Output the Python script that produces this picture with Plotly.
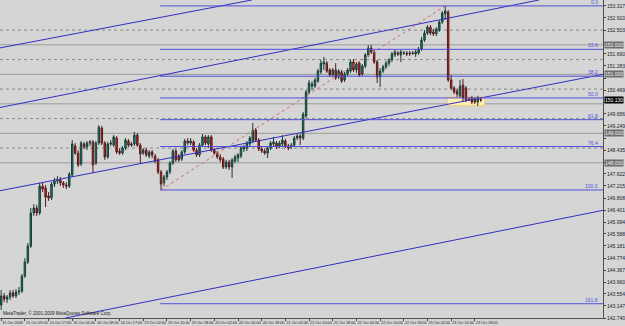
import plotly.graph_objects as go

# ---------------- data (hourly bars, 15-23 Oct 2009) ----------------
open_ = [143.18,143.49,143.38,143.45,143.59,143.49,143.62,143.65,144.16,144.64,
         145.18,146.30,146.47,146.30,147.21,147.15,146.88,146.81,147.28,147.38,
         147.42,147.32,147.25,147.21,147.59,148.57,148.33,147.96,148.64,148.54,
         148.67,148.71,147.99,148.67,149.18,148.67,148.20,148.64,148.60,148.84,
         148.40,148.33,148.50,148.74,148.60,148.64,148.94,148.60,148.33,148.43,
         148.23,148.37,148.23,148.10,147.69,147.32,147.52,147.69,147.99,148.40,
         148.23,148.13,148.37,148.74,148.67,148.71,148.43,148.27,148.60,148.88,
         148.64,148.88,148.43,148.33,148.20,148.13,147.86,148.03,147.86,148.06,
         148.16,148.23,148.47,148.50,148.64,148.74,149.11,148.77,148.47,148.40,
         148.33,148.50,148.64,148.67,148.57,148.64,148.74,148.57,148.54,148.60,
         148.84,148.91,148.84,149.59,150.40,150.60,150.60,150.77,151.08,151.35,
         151.38,151.15,150.98,151.15,150.91,151.08,150.81,151.01,151.11,151.42,
         151.15,151.38,151.01,151.28,151.66,151.89,151.76,151.42,150.91,151.11,
         151.25,151.38,151.49,151.66,151.72,151.66,151.72,151.72,151.69,151.72,
         151.69,151.72,151.86,152.16,152.40,152.60,152.44,152.37,152.50,152.77,
         153.05,153.11,150.81,150.54,150.43,150.27,150.64,150.54,150.16,150.20,
         150.16,150.06,150.16]
close = [143.49,143.38,143.45,143.59,143.49,143.62,143.65,144.16,144.64,145.18,
         146.30,146.47,146.30,147.21,147.11,146.84,146.81,147.28,147.38,147.42,
         147.32,147.25,147.21,147.62,148.64,148.33,147.93,148.67,148.54,148.67,
         148.71,147.93,148.67,149.21,148.67,148.20,148.64,148.67,148.88,148.37,
         148.33,148.50,148.77,148.60,148.64,148.94,148.60,148.30,148.43,148.27,
         148.37,148.27,148.06,147.69,147.28,147.52,147.69,147.99,148.40,148.10,
         148.10,148.37,148.74,148.67,148.74,148.43,148.27,148.60,148.88,148.67,
         148.88,148.43,148.33,148.20,148.10,147.86,148.03,147.86,148.10,148.20,
         148.27,148.50,148.54,148.67,148.84,149.11,148.77,148.47,148.40,148.33,
         148.50,148.67,148.71,148.54,148.67,148.77,148.57,148.50,148.60,148.84,
         148.91,148.84,149.65,150.40,150.71,150.67,150.81,151.11,151.38,151.42,
         151.11,150.98,151.15,150.88,151.11,150.77,151.01,151.15,151.42,151.15,
         151.35,150.98,151.28,151.66,151.89,151.76,151.42,150.91,151.11,151.25,
         151.38,151.49,151.69,151.76,151.69,151.76,151.73,151.69,151.72,151.71,
         151.76,151.86,152.16,152.40,152.60,152.40,152.37,152.54,152.77,153.08,
         153.15,150.81,150.54,150.40,150.33,150.60,150.20,150.13,150.15,150.06,
         150.06,150.20,150.13]
high = [143.69,143.59,143.52,143.69,143.69,143.72,143.79,144.23,144.77,145.28,
        146.47,146.60,146.57,147.32,147.32,147.25,147.01,147.35,147.49,147.55,
        147.52,147.38,147.35,147.69,148.77,148.67,148.43,148.74,148.71,148.74,
        148.77,148.77,148.74,149.28,149.25,148.74,148.71,148.77,148.94,148.91,
        148.50,148.57,148.84,148.81,148.71,149.05,149.01,148.67,148.50,148.50,
        148.43,148.43,148.30,148.16,147.76,147.59,147.76,148.06,148.47,148.47,
        148.30,148.43,148.81,148.84,148.84,148.77,148.50,148.67,148.98,148.94,
        148.94,148.94,148.50,148.40,148.30,148.20,148.10,148.10,148.16,148.27,
        148.33,148.57,148.60,148.74,148.91,149.35,149.18,148.84,148.54,148.47,
        148.57,148.74,148.88,148.74,148.74,148.94,148.81,148.64,148.67,148.91,
        148.98,148.98,149.72,150.47,150.81,150.77,150.88,151.18,151.49,151.59,
        151.45,151.21,151.21,151.38,151.18,151.15,151.08,151.21,151.49,151.52,
        151.42,151.45,151.35,151.72,151.99,151.99,151.83,151.49,151.21,151.32,
        151.45,151.55,151.76,151.83,151.79,151.83,151.79,151.79,151.79,151.79,
        151.83,151.93,152.27,152.50,152.67,152.67,152.54,152.60,152.84,153.15,
        153.32,153.18,150.98,150.60,150.50,150.81,150.84,150.60,150.23,150.27,
        150.23,150.27,150.23]
low = [143.01,143.28,143.25,143.35,143.42,143.42,143.52,143.59,144.10,144.57,
       145.11,146.20,146.20,146.23,147.01,146.50,146.71,146.74,147.18,147.28,
       147.21,147.15,147.11,147.15,147.52,148.27,147.86,147.89,148.47,148.43,
       148.57,147.65,147.93,148.60,148.60,148.10,148.13,148.57,148.54,148.30,
       148.27,148.27,148.43,148.54,148.54,148.57,148.54,147.99,148.27,148.20,
       148.16,148.16,147.99,147.62,147.08,147.21,147.42,147.62,147.93,148.03,
       148.03,148.06,148.30,148.60,148.60,148.37,148.20,148.20,148.54,148.60,
       148.50,148.37,148.27,148.13,148.03,147.79,147.79,147.76,147.49,147.99,
       148.03,148.16,148.37,148.40,148.57,148.67,148.71,148.40,148.33,148.27,
       148.16,148.43,148.54,148.47,148.50,148.57,148.50,148.43,148.47,148.54,
       148.77,148.60,148.77,149.52,150.33,150.47,150.54,150.71,151.01,151.15,
       151.05,150.91,150.91,150.81,150.84,150.71,150.74,150.94,151.05,151.08,
       151.05,150.91,150.94,151.21,151.59,151.69,151.35,150.71,150.57,151.05,
       151.18,151.28,151.42,151.59,151.62,151.42,151.66,151.62,151.62,151.66,
       151.59,151.66,151.79,152.10,152.33,152.33,152.30,152.30,152.44,152.71,
       152.84,150.74,150.47,150.33,150.23,150.20,150.06,150.06,150.10,149.99,
       149.99,149.93,150.06]
bar_idx = list(range(len(open_)))

# time axis labels (bar index -> label)
time_tick_idx = [0, 8, 16, 24, 32, 40, 48, 56, 64, 72, 80, 88, 96, 104, 112,
                 120, 128, 136, 144, 152, 160]
time_tick_text = ["15 Oct 2009", "15 Oct 09:00", "15 Oct 17:00", "16 Oct 01:00",
                  "16 Oct 09:00", "16 Oct 17:00", "19 Oct 02:00", "19 Oct 10:00",
                  "19 Oct 18:00", "20 Oct 02:00", "20 Oct 10:00", "20 Oct 18:00",
                  "21 Oct 02:00", "21 Oct 10:00", "21 Oct 18:00", "22 Oct 02:00",
                  "22 Oct 10:00", "22 Oct 18:00", "23 Oct 02:00", "23 Oct 10:00",
                  "23 Oct 18:00"]

# price axis labels
price_ticks = [142.740, 143.147, 143.554, 143.960, 144.367, 144.774, 145.181,
               145.588, 145.994, 146.401, 146.808, 147.215, 147.622, 148.028,
               148.435, 148.842, 149.249, 149.656, 150.062, 150.469, 150.876,
               151.283, 151.690, 152.096, 152.503, 152.910, 153.317]

# Fibonacci retracement (anchors: low bar / high bar)
fib_low_bar, fib_low = 54, 147.08
fib_high_bar, fib_high = 150, 153.32
fib_levels = [0.0, 23.6, 38.2, 50.0, 61.8, 76.4, 100.0, 161.8]

# round-number horizontal lines
solid_levels = [152.0, 151.0, 150.0, 149.0, 148.0]
dotted_levels = [152.5, 151.5, 150.5, 149.5, 148.5]

# trend / channel lines: (bar0, price0, bar1, price1)
trend_lines = [(-0.67, 151.89, 84.67, 153.52),
               (-0.67, 147.05, 203.3, 151.00),
               (-0.67, 149.87, 181.67, 153.52),
               (21.67, 142.74, 203.3, 146.39)]

# highlighted zone (bar range, price range)
zone = (151, 163, 149.93, 150.23)

X_RANGE = [-0.4, 203.3]
Y_RANGE = [142.74, 153.52]

BG = "#d5d5d5"
FIB_BLUE = "#5050dc"
TL_BLUE = "#3030c0"
FONT = "Liberation Sans"

fig = go.Figure()
fig.add_trace(go.Candlestick(
    x=bar_idx, open=open_, high=high, low=low, close=close,
    increasing=dict(line=dict(color="#163f38", width=1), fillcolor="#2a7b6c"),
    decreasing=dict(line=dict(color="#5c1818", width=1), fillcolor="#b32c2c"),
    whiskerwidth=0, hoverinfo="skip", showlegend=False))

shapes = []
shapes.append(dict(type="rect", xref="x", yref="y", x0=zone[0] - 0.3, x1=zone[1] + 0.3,
                   y0=zone[2], y1=zone[3], fillcolor="#fbefb6",
                   line=dict(color="#e9c97a", width=1), layer="below"))
for lv in solid_levels:
    shapes.append(dict(type="line", xref="paper", yref="y", x0=0, x1=1, y0=lv, y1=lv,
                       line=dict(color="#9b9b9b", width=1), layer="below"))
for lv in dotted_levels:
    shapes.append(dict(type="line", xref="paper", yref="y", x0=0, x1=1, y0=lv, y1=lv,
                       line=dict(color="#8a8a8a", width=1, dash="dot"), layer="below"))
for (a0, p0, a1, p1) in trend_lines:
    shapes.append(dict(type="line", xref="x", yref="y", x0=a0, x1=a1, y0=p0, y1=p1,
                       line=dict(color=TL_BLUE, width=1)))
shapes.append(dict(type="line", xref="x", yref="y", x0=fib_low_bar, x1=fib_high_bar,
                   y0=fib_low, y1=fib_high,
                   line=dict(color="#d06a6a", width=1, dash="dot")))
annotations = []
for lvl in fib_levels:
    p = fib_high - (fib_high - fib_low) * lvl / 100.0
    shapes.append(dict(type="line", xref="x", yref="y", x0=fib_low_bar - 0.3, x1=X_RANGE[1],
                       y0=p, y1=p, line=dict(color=FIB_BLUE, width=1)))
    annotations.append(dict(xref="x", yref="y", x=202.4, y=p, text=f"{lvl:.1f}",
                            xanchor="right", yanchor="bottom", showarrow=False,
                            font=dict(size=5, color=FIB_BLUE, family=FONT), yshift=-1))

# price boxes on the axis for horizontal lines and current price
box_prices = [lv for lv in solid_levels if lv != 150.0]
for lv in box_prices:
    annotations.append(dict(xref="paper", yref="y", x=1, y=lv, text=f"{lv:.3f}",
                            xanchor="left", yanchor="middle", showarrow=False, xshift=1,
                            bgcolor="#6f6f6f", borderpad=0,
                            font=dict(size=5, color="#f0f0f0", family=FONT)))
annotations.append(dict(xref="paper", yref="y", x=1, y=close[-1], text=f"{close[-1]:.3f}",
                        xanchor="left", yanchor="middle", showarrow=False, xshift=1,
                        bgcolor="#000000", borderpad=0,
                        font=dict(size=5, color="#ffffff", family=FONT)))
annotations.append(dict(xref="paper", yref="paper", x=0.002, y=0,
                        text="MetaTrader, © 2001-2009 MetaQuotes Software Corp.",
                        xanchor="left", yanchor="bottom", showarrow=False,
                        font=dict(size=4.5, color="#1a1a1a", family=FONT)))

# hide axis labels hidden behind the highlighted boxes
covered = box_prices + [close[-1]]
price_text = ["" if any(abs(v - c) < 0.2 for c in covered) else f"{v:.3f}" for v in price_ticks]

fig.update_layout(
    width=625, height=326,
    margin=dict(l=0, r=14, t=0, b=8),
    paper_bgcolor=BG, plot_bgcolor=BG,
    showlegend=False,
    shapes=shapes, annotations=annotations,
    xaxis=dict(range=X_RANGE, tickmode="array", tickvals=time_tick_idx, ticktext=time_tick_text,
               ticklabelposition="outside right", tickangle=0, ticks="outside", ticklen=2,
               tickcolor="#404040",
               tickfont=dict(size=3.8, color="#1a1a1a", family=FONT),
               showgrid=False, zeroline=False, showline=True, linecolor="#505050", linewidth=1,
               rangeslider=dict(visible=False), fixedrange=True),
    yaxis=dict(range=Y_RANGE, side="right", tickmode="array", tickvals=price_ticks,
               ticktext=price_text,
               ticks="outside", ticklen=2, tickcolor="#404040",
               tickfont=dict(size=5, color="#1a1a1a", family=FONT),
               showgrid=False, zeroline=False, showline=True, linecolor="#505050", linewidth=1,
               fixedrange=True),
)

fig.write_html("out.html")
